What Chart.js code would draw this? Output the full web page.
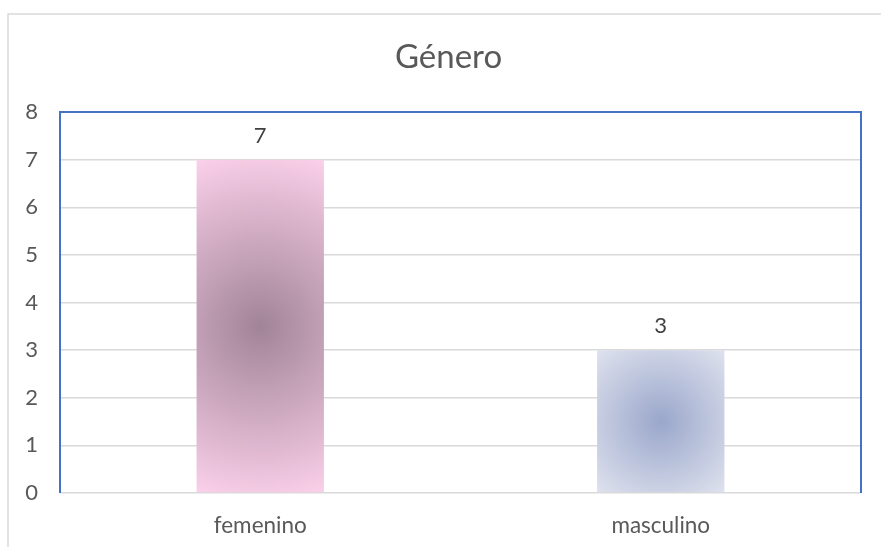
<!DOCTYPE html>
<html>
<head>
<meta charset="utf-8">
<script src="https://cdn.jsdelivr.net/npm/chart.js@4.4.1/dist/chart.umd.min.js"></script>
<style>
  html, body { margin: 0; padding: 0; background: #ffffff; }
  #wrap { width: 881px; height: 547px; position: relative; }
</style>
</head>
<body>
<div id="wrap"><canvas id="chart"></canvas></div>
<script>
// --- Data ---
const chartTitle = 'Género';
const categories = ['femenino', 'masculino'];
const counts = [7, 3];
const yTicks = [0, 1, 2, 3, 4, 5, 6, 7, 8];

// colours per bar: [centre, edge]
const barGradients = [
    ['#a18497', '#fbd0ea'],
    ['#9aa7cb', '#dfe2ee']
];

const textGrey = '#595959';
const fontFamily = 'Lato, "Open Sans", sans-serif';

// radial gradient fill for each bar, built from the chart's own scales
function barFill(ctx) {
    const chart = ctx.chart;
    const xs = chart.scales.x, ys = chart.scales.y;
    const i = ctx.dataIndex;
    if (!chart.chartArea || !xs || !ys) return barGradients[i][1];
    const cx = xs.getPixelForValue(i);
    const top = ys.getPixelForValue(counts[i]);
    const base = ys.getPixelForValue(0);
    if (!isFinite(cx) || !isFinite(top) || !isFinite(base)) return barGradients[i][1];
    const cy = (top + base) / 2;
    const halfW = (xs.width / categories.length) * 0.318 / 2;
    const halfH = Math.abs(base - top) / 2;
    const r = Math.sqrt(halfW * halfW + halfH * halfH);
    const g = chart.ctx.createRadialGradient(cx, cy, 0, cx, cy, r);
    g.addColorStop(0, barGradients[i][0]);
    g.addColorStop(1, barGradients[i][1]);
    return g;
}

// outer frame, title, blue plot border and value labels
const framePlugin = {
    id: 'frame',
    beforeDraw(chart) {
        const c = chart.ctx;
        c.save();
        c.strokeStyle = '#d9d9d9';
        c.lineWidth = 1.5;
        c.beginPath();
        c.moveTo(8, 547);
        c.lineTo(8, 14);
        c.lineTo(881, 14);
        c.stroke();

        c.fillStyle = textGrey;
        c.font = '33px ' + fontFamily;
        c.textAlign = 'center';
        c.textBaseline = 'middle';
        c.fillText(chartTitle, 448.5, 57);
        c.restore();
    },
    afterDraw(chart) {
        const c = chart.ctx;
        const a = chart.chartArea;
        c.save();
        c.strokeStyle = '#4472c4';
        c.lineWidth = 2;
        c.beginPath();
        c.moveTo(a.left, a.bottom);
        c.lineTo(a.left, a.top);
        c.lineTo(a.right, a.top);
        c.lineTo(a.right, a.bottom);
        c.stroke();

        const meta = chart.getDatasetMeta(0);
        c.fillStyle = '#404040';
        c.font = '22px ' + fontFamily;
        c.textAlign = 'center';
        c.textBaseline = 'middle';
        meta.data.forEach((el, i) => {
            c.fillText(String(counts[i]), el.x, el.y - 24);
        });
        c.restore();
    }
};

new Chart(document.getElementById('chart'), {
    type: 'bar',
    data: {
        labels: categories,
        datasets: [{
            data: counts,
            backgroundColor: barFill,
            borderWidth: 0,
            barPercentage: 0.318,
            categoryPercentage: 1
        }]
    },
    options: {
        responsive: true,
        maintainAspectRatio: false,
        animation: false,
        layout: { padding: { left: 0, right: 20, top: 112, bottom: 0 } },
        plugins: {
            legend: { display: false },
            tooltip: { enabled: false },
            title: { display: false }
        },
        scales: {
            x: {
                grid: { display: false, drawTicks: false },
                border: { display: false },
                ticks: {
                    color: textGrey,
                    font: { size: 22.5, family: fontFamily },
                    padding: 19
                },
                afterFit(scale) { scale.height = 547 - 493; }
            },
            y: {
                min: 0,
                max: 8,
                afterBuildTicks(scale) { scale.ticks = yTicks.map(v => ({ value: v })); },
                grid: { color: '#d9d9d9', lineWidth: 1.5, drawTicks: false },
                border: { display: false },
                ticks: {
                    color: textGrey,
                    font: { size: 22, family: fontFamily },
                    padding: 22
                },
                afterFit(scale) { scale.width = 60; }
            }
        }
    },
    plugins: [framePlugin]
});
</script>
</body>
</html>
